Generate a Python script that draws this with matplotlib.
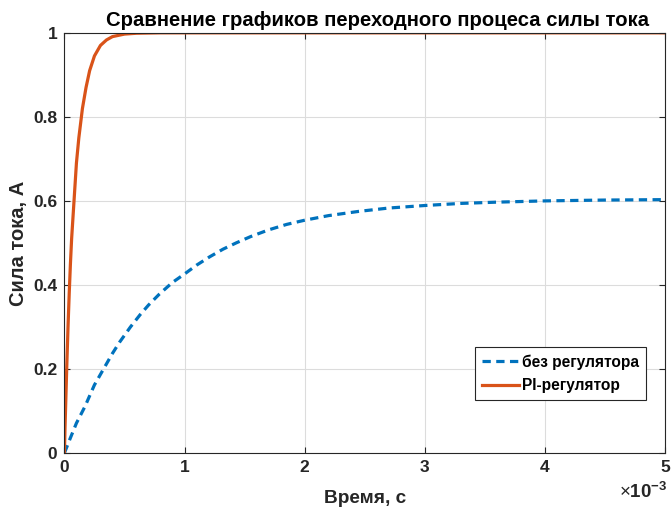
import matplotlib.pyplot as plt
import numpy as np

plt.rcParams['font.family'] = ['Liberation Sans', 'DejaVu Sans']
plt.rcParams['mathtext.fontset'] = 'custom'
plt.rcParams['mathtext.rm'] = 'Liberation Sans'
plt.rcParams['mathtext.bf'] = 'Liberation Sans:bold'

# values (time in ms)
t_no_reg = [0, 0.05, 0.1, 0.17, 0.25, 0.32, 0.4, 0.46, 0.55, 0.63, 0.7, 0.79, 0.9,
            1.0, 1.1, 1.21, 1.32, 1.43, 1.55, 1.7, 1.85, 2.0, 2.2, 2.45, 2.7,
            3.0, 3.3, 3.6, 4.0, 4.5, 5.0]
i_no_reg = [0, 0.036, 0.071, 0.11, 0.162, 0.197, 0.237, 0.264, 0.30, 0.329, 0.352, 0.378, 0.406,
            0.426, 0.447, 0.467, 0.485, 0.500, 0.515, 0.531, 0.544, 0.554, 0.565, 0.575, 0.583,
            0.589, 0.594, 0.597, 0.600, 0.602, 0.603]

t_pi = [0, 0.005, 0.01, 0.02, 0.03, 0.04, 0.05, 0.06, 0.08, 0.10, 0.12, 0.15, 0.18,
        0.21, 0.25, 0.30, 0.35, 0.40, 0.50, 0.60, 0.80, 5.0]
i_pi = [0, 0.06, 0.11, 0.21, 0.30, 0.38, 0.45, 0.51, 0.60, 0.69, 0.75, 0.82, 0.87,
        0.91, 0.945, 0.97, 0.983, 0.991, 0.997, 0.999, 1.0, 1.0]

blue = '#0072BD'
orange = '#D95319'

fig = plt.figure(figsize=(6.71, 5.13), dpi=100)
ax = fig.add_axes([0.096, 0.117, 0.895, 0.819])

ax.plot(np.array(t_no_reg) * 1e-3, i_no_reg, '--', color=blue, lw=2.3,
        dashes=(2.6, 1.7), label='без регулятора')
ax.plot(np.array(t_pi) * 1e-3, i_pi, '-', color=orange, lw=2.3, label='PI-регулятор')

ax.set_xlim(0, 5e-3)
ax.set_ylim(0, 1)
xt = [0, 1e-3, 2e-3, 3e-3, 4e-3, 5e-3]
ax.set_xticks(xt)
ax.set_xticklabels(['0', '1', '2', '3', '4', '5'])
ax.set_yticks([0, 0.2, 0.4, 0.6, 0.8, 1.0])
ax.set_yticklabels(['0', '0.2', '0.4', '0.6', '0.8', '1'])
ax.grid(True, color='#dcdcdc', lw=0.8)
ax.set_axisbelow(True)
ax.tick_params(direction='in', top=True, right=True, length=4, width=0.8,
               color='#262626', labelsize=12.5, pad=5)
for lab in ax.get_xticklabels() + ax.get_yticklabels():
    lab.set_fontweight('bold')
    lab.set_color('#262626')
for s in ax.spines.values():
    s.set_color('#262626')
    s.set_linewidth(0.8)

ax.set_title('Сравнение графиков переходного процеса силы тока',
             fontsize=14.6, fontweight='bold', pad=5, x=0.522)
ax.set_xlabel('Время, с', fontsize=13.7, fontweight='bold', color='#262626', labelpad=11)
ax.set_ylabel('Сила тока, А', fontsize=14.5, fontweight='bold', color='#262626', labelpad=4)
ax.text(1.005, -0.07, r'$\times\mathbf{10^{-3}}$', transform=ax.transAxes, ha='right', va='top',
        fontsize=13.5, color='#262626')

leg = ax.legend(loc='lower right', bbox_to_anchor=(0.968, 0.125),
                prop={'weight': 'bold', 'size': 11.2}, fancybox=False, framealpha=1,
                edgecolor='#262626', handlelength=2.4, handletextpad=0.15,
                borderpad=0.45, labelspacing=0.55, borderaxespad=0)
leg.get_frame().set_linewidth(0.8)

fig.savefig('out.png', dpi=100)
